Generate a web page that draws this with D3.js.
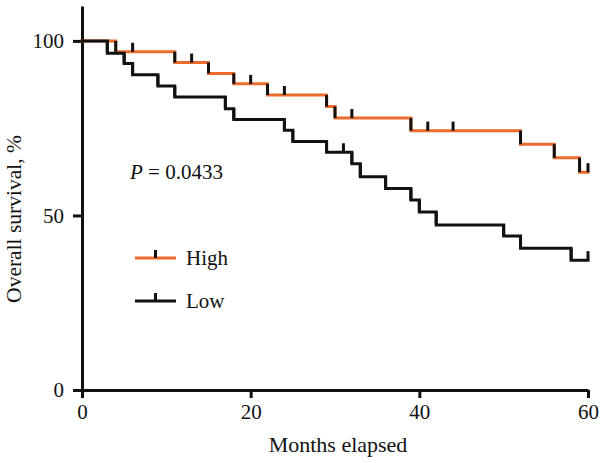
<!DOCTYPE html>
<html>
<head>
<meta charset="utf-8">
<script src="https://cdn.jsdelivr.net/npm/d3@7"></script>
<style>
  html, body { margin: 0; padding: 0; background: #fff; }
  svg { display: block; }
  text { font-family: "Liberation Serif", "Times New Roman", serif; fill: #111; }
</style>
</head>
<body>
<svg id="chart" width="602" height="463"></svg>
<script>
// ---- data ----
const highTimes    = [0, 4, 11, 15, 18, 22, 29, 30, 39, 52, 56, 59];
const highSurvival = [100, 96.9, 93.8, 90.7, 87.7, 84.5, 81.2, 77.9, 74.3, 70.4, 66.5, 62.4];
const highCensored = [6, 13, 20, 24, 32, 41, 44, 60];
const lowTimes     = [0, 3, 5, 6, 9, 11, 17, 18, 24, 25, 29, 32, 33, 36, 39, 40, 42, 50, 52, 58];
const lowSurvival  = [100, 96.5, 93.5, 90.3, 87.1, 83.9, 80.6, 77.5, 74.4, 71.2, 68.1, 64.8, 61.1, 57.7, 54.4, 51.0, 47.3, 44.1, 40.6, 37.2];
const lowCensored  = [31, 60];
const xTicks = [0, 20, 40, 60];
const yTicks = [0, 50, 100];
const groupNames = ["High", "Low"];
const pLabel = "0.0433";
const xTitle = "Months elapsed";
const yTitle = "Overall survival, %";
const endTime = 60;

const ORANGE = "#ec6a2c", DARK = "#111";
const svg = d3.select("#chart");
const x = d3.scaleLinear().domain([0, 60]).range([82, 588]);
const y = d3.scaleLinear().domain([0, 110]).range([390, 6]);

function steps(times, surv) {
  const pts = [];
  for (let i = 0; i < times.length; i++) {
    if (i > 0) pts.push([times[i], surv[i - 1]]);
    pts.push([times[i], surv[i]]);
  }
  pts.push([endTime, surv[surv.length - 1]]);
  return pts;
}
function survAt(times, surv, t) {
  let s = surv[0];
  for (let i = 0; i < times.length; i++) if (times[i] <= t) s = surv[i];
  return s;
}
const line = d3.line().x(d => x(d[0])).y(d => y(d[1]));

function drawCurve(times, surv, cens, color) {
  const g = svg.append("g");
  g.append("path").attr("d", line(steps(times, surv)))
    .attr("fill", "none").attr("stroke", color).attr("stroke-width", 3)
    .attr("stroke-linejoin", "miter").attr("stroke-linecap", "square");
  // vertical drops drawn dark
  for (let i = 1; i < times.length; i++) {
    g.append("line")
      .attr("x1", x(times[i])).attr("x2", x(times[i]))
      .attr("y1", y(surv[i - 1])).attr("y2", y(surv[i]))
      .attr("stroke", DARK).attr("stroke-width", 3);
  }
  cens.forEach(t => {
    const s = survAt(times, surv, t);
    g.append("line")
      .attr("x1", x(t)).attr("x2", x(t))
      .attr("y1", y(s)).attr("y2", y(s) - 9)
      .attr("stroke", DARK).attr("stroke-width", 3);
  });
}

// axes
const xAxis = svg.append("g").attr("transform", "translate(0,390)")
  .call(d3.axisBottom(x).tickValues(xTicks).tickSize(8).tickSizeOuter(0).tickPadding(6));
const yAxis = svg.append("g").attr("transform", "translate(82,0)")
  .call(d3.axisLeft(y).tickValues(yTicks).tickSize(9).tickSizeOuter(0).tickPadding(9));
[xAxis, yAxis].forEach(a => {
  a.select(".domain").attr("stroke", DARK).attr("stroke-width", 3);
  a.selectAll(".tick line").attr("stroke", DARK).attr("stroke-width", 3);
  a.selectAll(".tick text").attr("fill", "#111")
    .style("font-family", '"Liberation Serif", serif').style("font-size", "21px");
});

drawCurve(highTimes, highSurvival, highCensored, ORANGE);
drawCurve(lowTimes, lowSurvival, lowCensored, DARK);

// titles
svg.append("text").attr("x", 338).attr("y", 452).attr("text-anchor", "middle")
  .style("font-size", "22px").text(xTitle);
svg.append("text").attr("transform", "translate(21,219) rotate(-90)")
  .attr("text-anchor", "middle").style("font-size", "21.5px").text(yTitle);

// p value
const pt = svg.append("text").attr("x", 130).attr("y", 179).style("font-size", "21px");
pt.append("tspan").style("font-style", "italic").text("P");
pt.append("tspan").text(" = " + pLabel);

// legend
const legColors = [ORANGE, DARK];
groupNames.forEach((name, i) => {
  const ly = 258 + i * 43;
  svg.append("line").attr("x1", 135).attr("x2", 176).attr("y1", ly).attr("y2", ly)
    .attr("stroke", legColors[i]).attr("stroke-width", 3);
  svg.append("line").attr("x1", 155.5).attr("x2", 155.5).attr("y1", ly).attr("y2", ly - 8)
    .attr("stroke", DARK).attr("stroke-width", 3);
  svg.append("text").attr("x", 186).attr("y", ly + 7).style("font-size", "21px").text(name);
});
</script>
</body>
</html>
